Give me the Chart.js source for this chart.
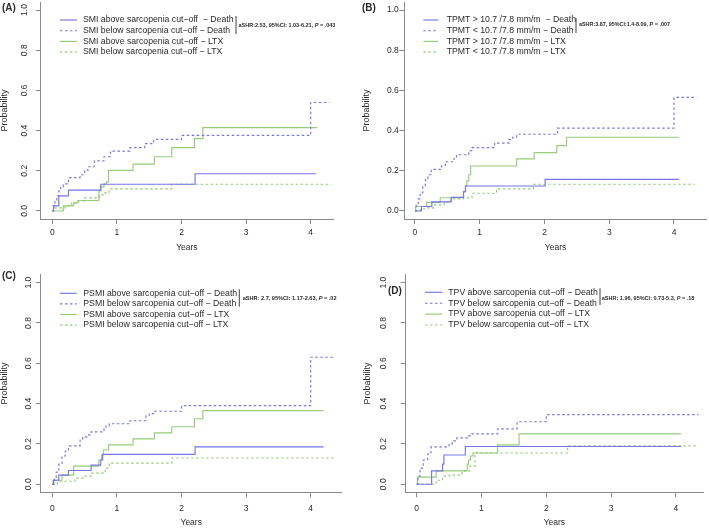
<!DOCTYPE html>
<html>
<head>
<meta charset="utf-8">
<script src="https://cdn.jsdelivr.net/npm/chart.js@4.4.1/dist/chart.umd.min.js"></script>
<style>
  html, body { margin: 0; padding: 0; background: #fff; }
  #wrap { position: relative; width: 709px; height: 528px; overflow: hidden; }
  canvas { position: absolute; }
</style>
</head>
<body>
<div id="wrap">
  <canvas id="cA" width="355" height="260" style="left:0px;top:0px;width:355px;height:260px"></canvas>
  <canvas id="cB" width="354" height="260" style="left:355px;top:0px;width:354px;height:260px"></canvas>
  <canvas id="cC" width="355" height="270" style="left:0px;top:258px;width:355px;height:270px"></canvas>
  <canvas id="cD" width="354" height="270" style="left:355px;top:258px;width:354px;height:270px"></canvas>
</div>
<script>
// ---- data: cumulative incidence step curves (time in years, probability) ----
const X_TICKS = [0, 1, 2, 3, 4];
const Y_TICKS = [0, 0.2, 0.4, 0.6, 0.8, 1.0];

// (A) SMI
const A_ABOVE_DEATH_T = [0, 0.02, 0.1, 0.25, 0.75, 2.21, 4.08];
const A_ABOVE_DEATH_P = [0, 0.025, 0.075, 0.104, 0.133, 0.185, 0.185];
const A_BELOW_DEATH_T = [0, 0.015, 0.04, 0.07, 0.1, 0.13, 0.17, 0.25, 0.43, 0.5, 0.55, 0.65, 0.8, 0.9, 1.2, 1.43, 1.57, 2.0, 4.0, 4.29];
const A_BELOW_DEATH_P = [0, 0.025, 0.05, 0.075, 0.1, 0.12, 0.135, 0.166, 0.18, 0.2, 0.22, 0.249, 0.27, 0.298, 0.315, 0.335, 0.356, 0.376, 0.54, 0.54];
const A_ABOVE_LTX_T = [0, 0.17, 0.33, 0.4, 0.72, 0.75, 0.8, 0.84, 0.87, 1.25, 1.58, 1.85, 2.2, 2.33, 4.1];
const A_ABOVE_LTX_P = [0, 0.025, 0.04, 0.052, 0.1, 0.12, 0.135, 0.145, 0.202, 0.233, 0.27, 0.315, 0.36, 0.415, 0.415];
const A_BELOW_LTX_T = [0, 0.02, 0.2, 0.3, 0.36, 0.5, 0.73, 0.8, 0.88, 1.85, 4.32];
const A_BELOW_LTX_P = [0, 0.015, 0.025, 0.04, 0.05, 0.065, 0.08, 0.09, 0.11, 0.133, 0.133];

// (B) TPMT
const B_ABOVE_DEATH_T = [0, 0.1, 0.26, 0.56, 0.75, 0.78, 2.01, 4.08];
const B_ABOVE_DEATH_P = [0, 0.022, 0.045, 0.068, 0.096, 0.124, 0.157, 0.157];
const B_BELOW_DEATH_T = [0, 0.02, 0.05, 0.08, 0.12, 0.16, 0.2, 0.25, 0.41, 0.47, 0.6, 0.64, 0.83, 0.88, 1.23, 1.45, 1.51, 1.57, 2.2, 4.0, 4.35];
const B_BELOW_DEATH_P = [0, 0.03, 0.06, 0.09, 0.12, 0.155, 0.18, 0.207, 0.225, 0.245, 0.26, 0.28, 0.3, 0.315, 0.338, 0.355, 0.367, 0.382, 0.412, 0.565, 0.565];
const B_ABOVE_LTX_T = [0, 0.01, 0.18, 0.39, 0.75, 0.78, 0.8, 0.83, 0.86, 1.57, 1.84, 2.19, 2.34, 4.08];
const B_ABOVE_LTX_P = [0, 0.022, 0.043, 0.066, 0.096, 0.124, 0.15, 0.18, 0.224, 0.259, 0.29, 0.325, 0.367, 0.367];
const B_BELOW_LTX_T = [0, 0.08, 0.15, 0.3, 0.45, 0.55, 0.75, 0.88, 1.26, 1.83, 4.32];
const B_BELOW_LTX_P = [0, 0.01, 0.015, 0.03, 0.045, 0.06, 0.065, 0.088, 0.11, 0.133, 0.133];

// (C) PSMI
const C_ABOVE_DEATH_T = [0, 0.02, 0.1, 0.25, 0.6, 0.75, 0.78, 2.21, 4.2];
const C_ABOVE_DEATH_P = [0, 0.02, 0.045, 0.068, 0.095, 0.12, 0.148, 0.185, 0.185];
const C_BELOW_DEATH_T = [0, 0.03, 0.06, 0.1, 0.15, 0.2, 0.25, 0.43, 0.47, 0.55, 0.6, 0.8, 0.83, 0.88, 1.2, 1.45, 1.5, 1.58, 2.0, 4.0, 4.35];
const C_BELOW_DEATH_P = [0, 0.03, 0.06, 0.1, 0.14, 0.165, 0.19, 0.225, 0.235, 0.245, 0.26, 0.28, 0.29, 0.3, 0.315, 0.34, 0.35, 0.362, 0.39, 0.63, 0.63];
const C_ABOVE_LTX_T = [0, 0.01, 0.15, 0.33, 0.72, 0.76, 0.79, 0.87, 1.25, 1.58, 1.85, 2.2, 2.33, 4.2];
const C_ABOVE_LTX_P = [0, 0.02, 0.045, 0.09, 0.12, 0.145, 0.17, 0.195, 0.225, 0.255, 0.285, 0.325, 0.365, 0.365];
const C_BELOW_LTX_T = [0, 0.08, 0.35, 0.5, 0.6, 0.82, 0.88, 1.85, 4.35];
const C_BELOW_LTX_P = [0, 0.015, 0.03, 0.04, 0.055, 0.08, 0.105, 0.13, 0.13];

// (D) TPV
const D_ABOVE_DEATH_T = [0, 0.23, 0.4, 0.42, 0.75, 4.08];
const D_ABOVE_DEATH_P = [0, 0.066, 0.1, 0.145, 0.187, 0.187];
const D_BELOW_DEATH_T = [0, 0.02, 0.05, 0.1, 0.17, 0.22, 0.5, 0.55, 0.62, 0.8, 0.85, 1.25, 1.55, 2.0, 4.35];
const D_BELOW_DEATH_P = [0, 0.04, 0.08, 0.12, 0.15, 0.185, 0.2, 0.215, 0.23, 0.24, 0.25, 0.275, 0.31, 0.345, 0.345];
const D_ABOVE_LTX_T = [0, 0.01, 0.3, 0.78, 0.8, 0.83, 0.87, 1.25, 1.58, 4.08];
const D_ABOVE_LTX_P = [0, 0.035, 0.066, 0.1, 0.12, 0.14, 0.155, 0.195, 0.25, 0.25];
const D_BELOW_LTX_T = [0, 0.3, 0.33, 0.4, 0.5, 0.7, 0.82, 0.9, 2.33, 4.35];
const D_BELOW_LTX_P = [0, 0.01, 0.02, 0.04, 0.045, 0.065, 0.09, 0.155, 0.19, 0.19];

// legend texts
const A_LABELS = ['SMI above sarcopenia cut\u2212off  \u2212 Death', 'SMI below sarcopenia cut\u2212off \u2212 Death', 'SMI above sarcopenia cut\u2212off \u2212 LTX', 'SMI below sarcopenia cut\u2212off \u2212 LTX'];
const B_LABELS = ['TPMT > 10.7 /7.8 mm/m  \u2212 Death', 'TPMT < 10.7 /7.8 mm/m \u2212 Death', 'TPMT > 10.7 /7.8 mm/m \u2212 LTX', 'TPMT < 10.7 /7.8 mm/m \u2212 LTX'];
const C_LABELS = ['PSMI above sarcopenia cut\u2212off \u2212 Death', 'PSMI below sarcopenia cut\u2212off \u2212 Death', 'PSMI above sarcopenia cut\u2212off \u2212 LTX', 'PSMI below sarcopenia cut\u2212off \u2212 LTX'];
const D_LABELS = ['TPV above sarcopenia cut\u2212off \u2212 Death', 'TPV below sarcopenia cut\u2212off \u2212 Death', 'TPV above sarcopenia cut\u2212off \u2212 LTX', 'TPV below sarcopenia cut\u2212off \u2212 LTX'];

// subdistribution hazard ratio notes: [before P, after P]
const A_NOTE = ['aSHR:2.53, 95%CI: 1.03-6.21, ', ' = .043'];
const B_NOTE = ['aSHR:3.87, 95%CI:1.4-8.09, ', ' = .007'];
const C_NOTE = ['aSHR: 2.7, 95%CI: 1.17-2.63, ', ' = .02'];
const D_NOTE = ['aSHR: 1.96, 95%CI: 0.73-5.3, ', ' = .18'];

// ---- styles ----
const BLUE = '#7676e6';
const GREEN = '#97cc79';
const AXIS_GREY = '#8a8a8a';
const TEXT = '#2a2a2a';
const FAMILY = '"Liberation Sans", Arial, Helvetica, sans-serif';

function pts(ts, ps) {
  return ts.map((t, i) => ({ x: t, y: ps[i] }));
}

function series(labels, curves) {
  const looks = [
    { color: BLUE, dash: [] },
    { color: BLUE, dash: [2.5, 2.5] },
    { color: GREEN, dash: [] },
    { color: GREEN, dash: [2.5, 2.5] },
  ];
  return curves.map((c, i) => ({
    label: labels[i],
    data: pts(c[0], c[1]),
    borderColor: looks[i].color,
    borderDash: looks[i].dash,
    borderWidth: 1.15,
    stepped: 'before',
    pointRadius: 0,
    fill: false,
  }));
}

// legend, bracket, hazard note and panel letter
const decorPlugin = {
  id: 'decor',
  afterDraw(chart, args, o) {
    const ctx = chart.ctx;
    ctx.save();
    ctx.textBaseline = 'middle';
    ctx.font = `8.7px ${FAMILY}`;
    chart.data.datasets.forEach((ds, i) => {
      const y = o.rowY + i * o.rowStep;
      ctx.strokeStyle = ds.borderColor;
      ctx.lineWidth = ds.borderWidth;
      ctx.setLineDash(ds.borderDash);
      ctx.beginPath();
      ctx.moveTo(o.sampleX0, y);
      ctx.lineTo(o.sampleX1, y);
      ctx.stroke();
      ctx.fillStyle = TEXT;
      ctx.fillText(ds.label, o.textX, y);
    });
    ctx.setLineDash([]);

    // bracket
    ctx.strokeStyle = TEXT;
    ctx.lineWidth = 0.9;
    ctx.beginPath();
    ctx.moveTo(o.barX, o.barY0);
    ctx.lineTo(o.barX, o.barY1);
    ctx.stroke();

    // note, fitted to its width
    const base = 10;
    const fB = s => `bold ${s}px ${FAMILY}`;
    const fBI = s => `italic bold ${s}px ${FAMILY}`;
    ctx.font = fB(base);
    let w = ctx.measureText(o.note[0]).width + ctx.measureText(o.note[1]).width;
    ctx.font = fBI(base);
    w += ctx.measureText('P').width;
    const size = base * o.noteW / w;
    let x = o.noteX;
    ctx.fillStyle = TEXT;
    ctx.font = fB(size);
    ctx.fillText(o.note[0], x, o.noteY);
    x += ctx.measureText(o.note[0]).width;
    ctx.font = fBI(size);
    ctx.fillText('P', x, o.noteY);
    x += ctx.measureText('P').width;
    ctx.font = fB(size);
    ctx.fillText(o.note[1], x, o.noteY);

    // panel letter
    ctx.font = `bold 10px ${FAMILY}`;
    ctx.fillText(o.letter, o.letterX, o.letterY);
    ctx.restore();
  }
};

function makePanel(id, datasets, p) {
  return new Chart(document.getElementById(id), {
    type: 'line',
    data: { datasets },
    options: {
      responsive: false,
      animation: false,
      events: [],
      layout: { padding: { left: 0, top: p.padTop, right: p.padRight, bottom: 0 } },
      plugins: {
        legend: { display: false },
        tooltip: { enabled: false },
        decor: p.decor,
      },
      scales: {
        x: {
          type: 'linear',
          min: p.xMin,
          max: p.xMax,
          afterBuildTicks: s => { s.ticks = X_TICKS.map(v => ({ value: v })); },
          afterFit: s => { s.height = p.xAxisH; s.paddingLeft = 0; s.paddingRight = 0; },
          grid: { display: true, drawOnChartArea: false, drawTicks: true, tickLength: 5, color: AXIS_GREY, lineWidth: 1 },
          border: { display: true, color: AXIS_GREY, width: 1 },
          ticks: {
            autoSkip: false, maxRotation: 0, padding: p.xTickPad, color: TEXT,
            font: { family: FAMILY, size: 8.5 },
            callback: v => String(v),
          },
          title: {
            display: true, text: 'Years', color: TEXT,
            font: { family: FAMILY, size: 8.5, lineHeight: 1 },
            padding: { top: 0, bottom: p.xTitlePad },
          },
        },
        y: {
          type: 'linear',
          min: -0.04,
          max: 1.04,
          afterBuildTicks: s => { s.ticks = Y_TICKS.map(v => ({ value: v })); },
          afterFit: s => { s.width = p.yAxisW; s.paddingTop = 0; s.paddingBottom = 0; },
          grid: { display: true, drawOnChartArea: false, drawTicks: true, tickLength: 5, color: AXIS_GREY, lineWidth: 1 },
          border: { display: true, color: AXIS_GREY, width: 1 },
          ticks: {
            autoSkip: false,
            minRotation: p.yRot ? 90 : 0,
            maxRotation: p.yRot ? 90 : 0,
            crossAlign: p.yRot ? 'center' : 'near',
            padding: p.yTickPad, color: TEXT,
            font: { family: FAMILY, size: 8.5 },
            callback: v => v.toFixed(1),
          },
          title: {
            display: true, text: 'Probability', color: TEXT,
            font: { family: FAMILY, size: 9, lineHeight: 1 },
            padding: { top: p.yTitlePad, bottom: 0 },
          },
        },
      },
    },
    plugins: [decorPlugin],
  });
}

makePanel('cA', series(A_LABELS, [
  [A_ABOVE_DEATH_T, A_ABOVE_DEATH_P], [A_BELOW_DEATH_T, A_BELOW_DEATH_P],
  [A_ABOVE_LTX_T, A_ABOVE_LTX_P], [A_BELOW_LTX_T, A_BELOW_LTX_P]]), {
  padTop: 2, padRight: 22, yAxisW: 40.7, xAxisH: 41, xMin: -0.18, xMax: 4.345,
  yRot: true, yTickPad: 5.3, xTickPad: 3.9, xTitlePad: 8, yTitlePad: 0.5,
  decor: { rowY: 20, rowStep: 10.7, sampleX0: 60, sampleX1: 77, textX: 83,
    barX: 236, barY0: 16, barY1: 34, note: A_NOTE, noteX: 238.5, noteY: 25, noteW: 97,
    letter: '(A)', letterX: 2, letterY: 8.5 },
});

makePanel('cB', series(B_LABELS, [
  [B_ABOVE_DEATH_T, B_ABOVE_DEATH_P], [B_BELOW_DEATH_T, B_BELOW_DEATH_P],
  [B_ABOVE_LTX_T, B_ABOVE_LTX_P], [B_BELOW_LTX_T, B_BELOW_LTX_P]]), {
  padTop: 2, padRight: 2.3, yAxisW: 49.3, xAxisH: 41, xMin: -0.165, xMax: 4.505,
  yRot: false, yTickPad: 0.5, xTickPad: 3.9, xTitlePad: 8, yTitlePad: 7.5,
  decor: { rowY: 20, rowStep: 10.7, sampleX0: 68.3, sampleX1: 83.3, textX: 91.7,
    barX: 221, barY0: 18, barY1: 33, note: B_NOTE, noteX: 224, noteY: 24.5, noteW: 91,
    letter: '(B)', letterX: 7, letterY: 8.5 },
});

makePanel('cC', series(C_LABELS, [
  [C_ABOVE_DEATH_T, C_ABOVE_DEATH_P], [C_BELOW_DEATH_T, C_BELOW_DEATH_P],
  [C_ABOVE_LTX_T, C_ABOVE_LTX_P], [C_BELOW_LTX_T, C_BELOW_LTX_P]]), {
  padTop: 16.6, padRight: 13.3, yAxisW: 40.7, xAxisH: 35.7, xMin: -0.18, xMax: 4.48,
  yRot: true, yTickPad: 1.5, xTickPad: 5.9, xTitlePad: 0.7, yTitlePad: 0.5,
  decor: { rowY: 35.3, rowStep: 10.6, sampleX0: 60, sampleX1: 76.7, textX: 83.3,
    barX: 239.3, barY0: 31.3, barY1: 48.7, note: C_NOTE, noteX: 242.7, noteY: 40.3, noteW: 94,
    letter: '(C)', letterX: 2, letterY: 18 },
});

makePanel('cD', series(D_LABELS, [
  [D_ABOVE_DEATH_T, D_ABOVE_DEATH_P], [D_BELOW_DEATH_T, D_BELOW_DEATH_P],
  [D_ABOVE_LTX_T, D_ABOVE_LTX_P], [D_BELOW_LTX_T, D_BELOW_LTX_P]]), {
  padTop: 16.6, padRight: 6, yAxisW: 50.7, xAxisH: 35.7, xMin: -0.17, xMax: 4.42,
  yRot: true, yTickPad: 10.8, xTickPad: 5.9, xTitlePad: 0.7, yTitlePad: 8.5,
  decor: { rowY: 34.3, rowStep: 10.9, sampleX0: 70, sampleX1: 87.3, textX: 93.3,
    barX: 245, barY0: 30.3, barY1: 47, note: D_NOTE, noteX: 246.7, noteY: 40.3, noteW: 93,
    letter: '(D)', letterX: 33, letterY: 33 },
});
</script>
</body>
</html>
